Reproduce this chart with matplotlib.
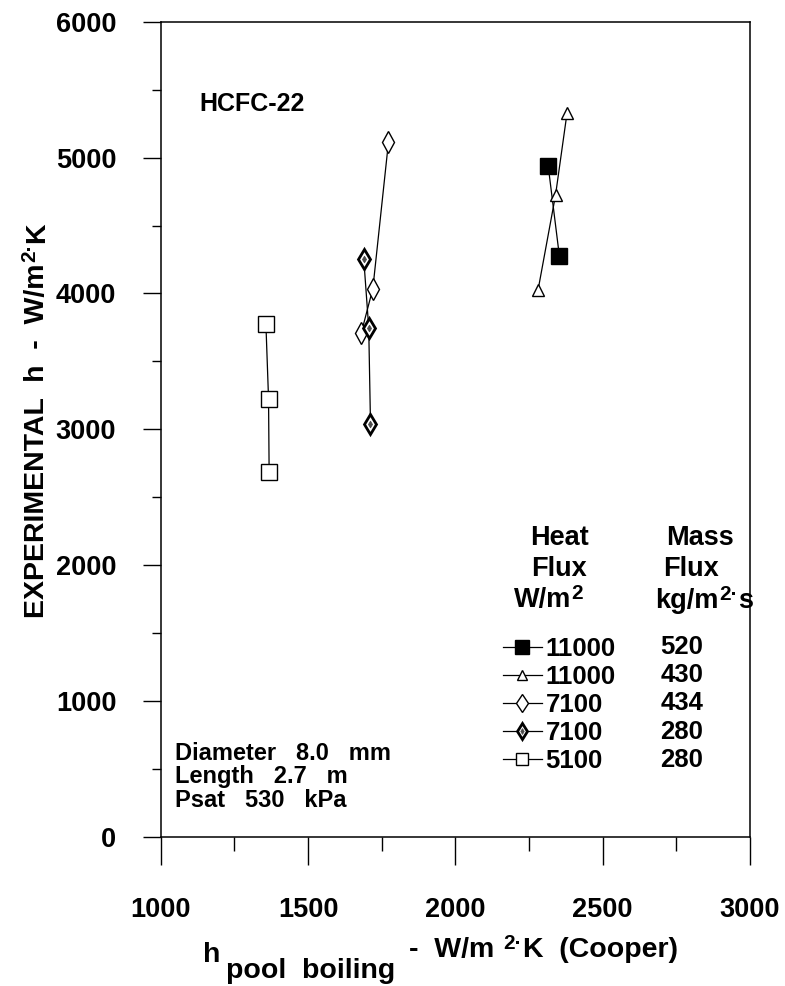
import matplotlib
matplotlib.use("Agg")
import matplotlib.pyplot as plt
from matplotlib.ticker import MultipleLocator
from matplotlib.legend_handler import HandlerTuple

plt.rcParams['font.family'] = ['Liberation Sans', 'DejaVu Sans']
plt.rcParams['font.weight'] = 'bold'

# ---- data ----
heat_flux = ["11000", "11000", "7100", "7100", "5100"]
mass_flux = ["520", "430", "434", "280", "280"]

x_sq_filled = [2315, 2353]
y_sq_filled = [4940, 4277]
x_tri = [2379, 2340, 2281]
y_tri = [5327, 4724, 4029]
x_dia_open = [1773, 1720, 1681]
y_dia_open = [5113, 4036, 3712]
x_dia_hatch = [1689, 1706, 1712]
y_dia_hatch = [4257, 3749, 3041]
x_sq_open = [1357, 1366, 1368]
y_sq_open = [3778, 3225, 2684]

x_ticks = [1000, 1500, 2000, 2500, 3000]
y_ticks = [0, 1000, 2000, 3000, 4000, 5000, 6000]

info_lines = ["Diameter   8.0   mm", "Length   2.7   m", "Psat   530   kPa"]

W, H = 785, 986
fig = plt.figure(figsize=(W / 100, H / 100), dpi=100)
ax = fig.add_axes([160.7 / W, 1 - 837 / H, (750 - 160.7) / W, (837 - 21.7) / H])
renderer = fig.canvas.get_renderer()


def fx(px):
    return px / W


def fy(py):
    return 1 - py / H


lw = 0.9
h1, = ax.plot(x_sq_filled, y_sq_filled, '-', color='black', lw=lw, marker='s',
              ms=11.5, mfc='black', mec='black')
h2, = ax.plot(x_tri, y_tri, '-', color='black', lw=lw, marker='^',
              ms=8, mfc='white', mec='black', mew=1.0)
h3, = ax.plot(x_dia_open, y_dia_open, '-', color='black', lw=lw, marker='d',
              ms=11, mfc='white', mec='black', mew=1.0)
h4, = ax.plot(x_dia_hatch, y_dia_hatch, '-', color='black', lw=lw, marker='d',
              ms=10, mfc='white', mec='black', mew=2.0)
h4b, = ax.plot(x_dia_hatch, y_dia_hatch, linestyle='none', marker='d',
               ms=3.5, mfc='0.3', mec='0.3', mew=0.5)
h5, = ax.plot(x_sq_open, y_sq_open, '-', color='black', lw=lw, marker='s',
              ms=11, mfc='white', mec='black', mew=1.0)

ax.set_xlim(1000, 3000)
ax.set_ylim(0, 6000)
ax.set_xticks(x_ticks)
ax.set_yticks(y_ticks)
ax.xaxis.set_minor_locator(MultipleLocator(250))
ax.yaxis.set_minor_locator(MultipleLocator(500))
ax.tick_params(axis='x', which='major', direction='out', length=20, width=1.0,
               pad=23, labelsize=19.5)
ax.tick_params(axis='x', which='minor', direction='out', length=10, width=1.0)
ax.tick_params(axis='y', which='major', direction='out', length=13, width=1.0,
               pad=19, labelsize=19.5)
ax.tick_params(axis='y', which='minor', direction='out', length=6.5, width=1.0)
for lab in ax.get_xticklabels() + ax.get_yticklabels():
    lab.set_fontweight('bold')
for sp in ax.spines.values():
    sp.set_linewidth(1.1)

LAB = 20.5
SUP = 15


def size_px(t):
    bb = t.get_window_extent(renderer=renderer)
    return bb.width, bb.height


def sup_text(x0, y_base, main, sup, tail, size, supsize, raise_px, gap=1):
    """Horizontal text with a raised piece; positions in pixels."""
    xcur = x0
    t = fig.text(fx(xcur), fy(y_base), main, ha='left', va='baseline',
                 fontsize=size, fontweight='bold')
    w, _ = size_px(t)
    xcur += w + gap
    t = fig.text(fx(xcur), fy(y_base - raise_px), sup, ha='left', va='baseline',
                 fontsize=supsize, fontweight='bold')
    w, _ = size_px(t)
    xcur += w + gap
    if tail:
        fig.text(fx(xcur), fy(y_base), tail, ha='left', va='baseline',
                 fontsize=size, fontweight='bold')


# ---- y label (rotated, built from pieces) ----
ybase_x = 44
t = fig.text(fx(ybase_x), fy(618), "EXPERIMENTAL  h  -  W/m", rotation=90,
             rotation_mode='anchor', ha='left', va='baseline', fontsize=LAB,
             fontweight='bold')
_, hgt = size_px(t)
ycur = 618 - hgt - 1
t = fig.text(fx(ybase_x - 9), fy(ycur), "2\u00b7", rotation=90,
             rotation_mode='anchor', ha='left', va='baseline', fontsize=SUP,
             fontweight='bold')
_, hgt = size_px(t)
ycur = ycur - hgt - 1
fig.text(fx(ybase_x), fy(ycur), "K", rotation=90, rotation_mode='anchor',
         ha='left', va='baseline', fontsize=LAB, fontweight='bold')

# ---- x label pieces ----
fig.text(fx(203), fy(962), "h", ha='left', va='baseline', fontsize=LAB, fontweight='bold')
fig.text(fx(226), fy(978), "pool  boiling", ha='left', va='baseline', fontsize=LAB,
         fontweight='bold')
sup_text(409, 957, "-  W/m ", "2\u00b7", "K  (Cooper)", LAB, SUP, 8)

# ---- annotations ----
fig.text(fx(199), fy(111), "HCFC-22", ha='left', va='baseline', fontsize=18,
         fontweight='bold')
for i, line in enumerate(info_lines):
    fig.text(fx(175), fy(760 + i * 23.5), line, ha='left', va='baseline',
             fontsize=17, fontweight='bold')

# ---- legend header ----
HDR = 19.5
fig.text(fx(559), fy(545), "Heat", ha='center', va='baseline', fontsize=HDR, fontweight='bold')
fig.text(fx(559), fy(576), "Flux", ha='center', va='baseline', fontsize=HDR, fontweight='bold')
sup_text(514, 607, "W/m", "2", "", HDR, SUP, 8, gap=0.5)
fig.text(fx(700), fy(545), "Mass", ha='center', va='baseline', fontsize=HDR, fontweight='bold')
fig.text(fx(691), fy(576), "Flux", ha='center', va='baseline', fontsize=HDR, fontweight='bold')
sup_text(655, 608, "kg/m", "2\u00b7", "s", HDR, SUP, 8, gap=0.5)

leg = ax.legend([h1, h2, h3, (h4, h4b), h5], heat_flux, loc='upper left',
                bbox_to_anchor=(fx(503), fy(637)), bbox_transform=fig.transFigure,
                frameon=False, borderpad=0, borderaxespad=0, handlelength=1.5,
                handletextpad=0.15, labelspacing=0.16,
                prop={'size': 18.5, 'weight': 'bold'}, markerscale=0.85,
                handler_map={tuple: HandlerTuple(ndivide=1, pad=0)})

for i, m in enumerate(mass_flux):
    fig.text(fx(682), fy(647 + i * 28.2), m, ha='center', va='center', fontsize=18.5,
             fontweight='bold')

fig.savefig("out.png", dpi=100)
